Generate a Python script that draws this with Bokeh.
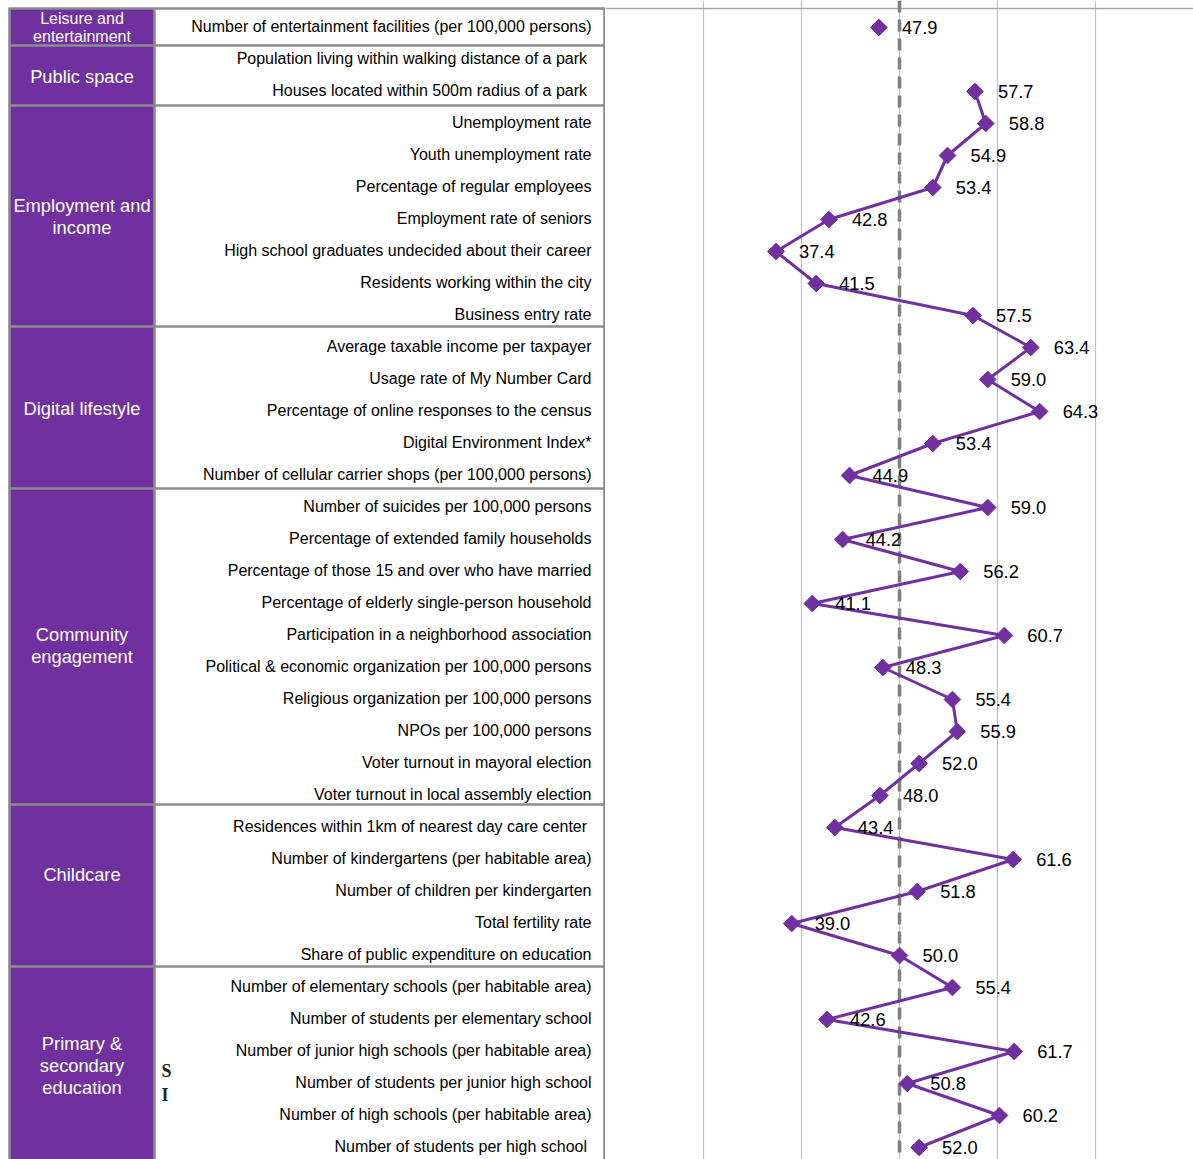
import math
from bokeh.plotting import figure
from bokeh.models import Range1d, Span, Grid, FixedTicker
from bokeh.layouts import row
from bokeh.embed import file_html
from bokeh.resources import INLINE
from bokeh.core.properties import value

# ---------------- data ----------------
indicators = [
    "Number of entertainment facilities (per 100,000 persons)",
    "Population living within walking distance of a park ",
    "Houses located within 500m radius of a park ",
    "Unemployment rate",
    "Youth unemployment rate",
    "Percentage of regular employees",
    "Employment rate of seniors",
    "High school graduates undecided about their career",
    "Residents working within the city",
    "Business entry rate",
    "Average taxable income per taxpayer",
    "Usage rate of My Number Card",
    "Percentage of online responses to the census",
    "Digital Environment Index*",
    "Number of cellular carrier shops (per 100,000 persons)",
    "Number of suicides per 100,000 persons",
    "Percentage of extended family households",
    "Percentage of those 15 and over who have married",
    "Percentage of elderly single-person household",
    "Participation in a neighborhood association",
    "Political & economic organization per 100,000 persons",
    "Religious organization per 100,000 persons",
    "NPOs per 100,000 persons",
    "Voter turnout in mayoral election",
    "Voter turnout in local assembly election",
    "Residences within 1km of nearest day care center ",
    "Number of kindergartens (per habitable area)",
    "Number of children per kindergarten",
    "Total fertility rate",
    "Share of public expenditure on education",
    "Number of elementary schools (per habitable area)",
    "Number of students per elementary school",
    "Number of junior high schools (per habitable area)",
    "Number of students per junior high school",
    "Number of high schools (per habitable area)",
    "Number of students per high school ",
]
scores = [
    47.9, float("nan"), 57.7, 58.8, 54.9, 53.4, 42.8, 37.4, 41.5, 57.5,
    63.4, 59.0, 64.3, 53.4, 44.9, 59.0, 44.2, 56.2, 41.1, 60.7,
    48.3, 55.4, 55.9, 52.0, 48.0, 43.4, 61.6, 51.8, 39.0, 50.0,
    55.4, 42.6, 61.7, 50.8, 60.2, 52.0,
]
groups = [
    "Leisure and\nentertainment", "Public space", "Employment and\nincome",
    "Digital lifestyle", "Community\nengagement", "Childcare",
    "Primary &\nsecondary\neducation",
]
group_sizes = [1, 2, 7, 5, 10, 5, 6]
baseline = 50
x_ticks = [30, 40, 50, 60, 70, 80]
x_min, x_max = 20, 80

# ---------------- styles / layout tweaks (pixels) ----------------
PURPLE = "#7030A0"
BORDER = "#8c8c8c"
GRIDC = "#c0c0c0"
FONT = value("Liberation Sans")
sep_shift_px = [0, 2, -2, -5, -3, -7, -5]        # cell-border nudges, per group top
label_shift_px = [0, 1, -3, -3, -6, -17, -2]      # category label nudges

N = len(indicators)
H = 1159
ROW_PX = 32.0
FIRST_ROW_TOP = 11
y_top = -0.5 - FIRST_ROW_TOP / ROW_PX
y_bot = y_top + H / ROW_PX
yr = Range1d(start=y_bot, end=y_top)
rows = list(range(N))
table_top = -0.5 - 3 / ROW_PX

tops, bottoms, centers = [], [], []
s = 0
for g, n in enumerate(group_sizes):
    tops.append(s - 0.5 + sep_shift_px[g] / ROW_PX)
    centers.append(s + (n - 1) / 2 + label_shift_px[g] / ROW_PX)
    s += n
tops[0] = table_top
bottoms = tops[1:] + [y_bot]

# ---------------- left: table ----------------
LW = 605
left = figure(width=LW, height=H, x_range=Range1d(0, LW), y_range=yr,
              output_backend="svg", toolbar_location=None, min_border=0,
              x_axis_location=None, y_axis_location=None, outline_line_color=None)
left.grid.visible = False

left.quad(left=9, right=154, top=tops, bottom=bottoms, fill_color=PURPLE, line_color=None)
left.segment(x0=8, x1=LW, y0=tops, y1=tops, line_color=BORDER, line_width=2.6)
for xv in (9, 154, 604):
    left.segment(x0=xv, x1=xv, y0=table_top, y1=y_bot, line_color=BORDER, line_width=2.6)

left.text(x=[81.5], y=[centers[0]], text=[groups[0]], text_align="center",
          text_baseline="middle", text_color="white", text_font=FONT,
          text_font_size="16px", text_line_height=1.08)
left.text(x=[81.5] * (len(groups) - 1), y=centers[1:], text=groups[1:], text_align="center",
          text_baseline="middle", text_color="white", text_font=FONT,
          text_font_size="18.3px", text_line_height=1.03)

left.text(x=[591] * N, y=rows, text=indicators, text_align="right",
          text_baseline="middle", text_color="black", text_font=FONT,
          text_font_size="16px", y_offset=-1)

left.text(x=[161, 161], y=[32.6, 33.35], text=["S", "I"], text_align="left",
          text_baseline="middle", text_color="#222222",
          text_font=value("Liberation Serif"), text_font_style="bold",
          text_font_size="18px")

# ---------------- right: chart ----------------
RW = 588
right = figure(width=RW, height=H, x_range=Range1d(x_min, x_max),
               y_range=yr, output_backend="svg", toolbar_location=None, min_border=0,
               x_axis_location=None, y_axis_location=None, outline_line_color=None)
right.grid.visible = False
right.add_layout(Grid(dimension=0, ticker=FixedTicker(ticks=x_ticks),
                      grid_line_color=GRIDC, grid_line_width=1.2))
right.add_layout(Span(location=table_top, dimension="width", line_color="#a6a6a6",
                      line_width=1.5, level="underlay"))
right.add_layout(Span(location=baseline, dimension="height", line_color="#7f7f7f",
                      line_width=3.5, line_dash="12 7", level="underlay"))

right.line(x=scores, y=rows, line_color=PURPLE, line_width=3)
right.scatter(x=scores, y=rows, marker="square", angle=math.pi / 4, size=11.8,
              fill_color=PURPLE, line_color=PURPLE)
labels = ["" if math.isnan(v) else f"{v:.1f}" for v in scores]
right.text(x=scores, y=rows, text=labels, x_offset=23, text_baseline="middle",
           text_align="left", text_color="black", text_font=FONT, text_font_size="18.3px")

layout = row(left, right)
open("out.html", "w").write(file_html(layout, INLINE))
